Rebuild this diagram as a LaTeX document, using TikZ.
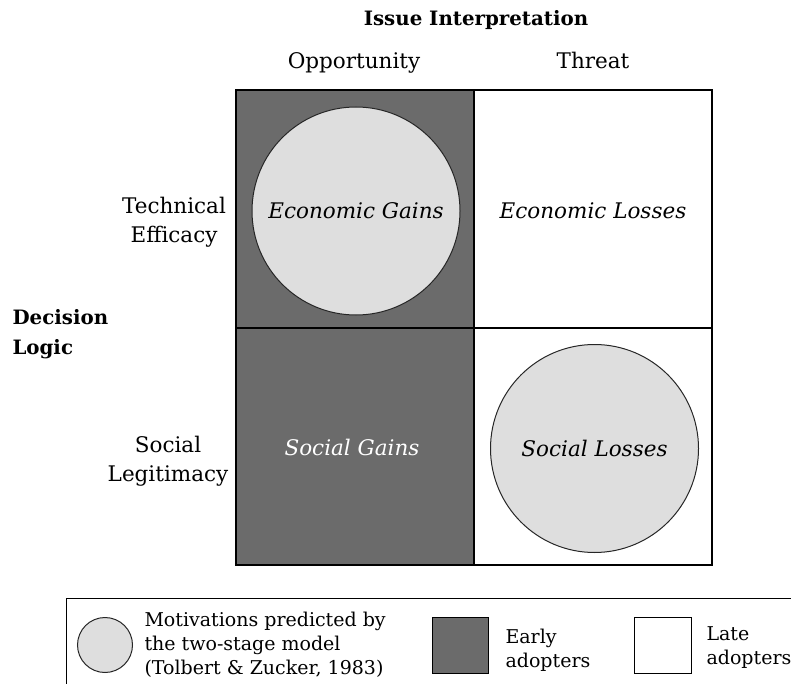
\documentclass[tikz,border=0pt]{standalone}
\usepackage{fontspec}
\setmainfont{DejaVu Serif}
\usetikzlibrary{positioning}
\definecolor{darkcell}{HTML}{6B6B6B}
\definecolor{lightdisc}{HTML}{DEDEDE}

\begin{document}
\begin{tikzpicture}[x=1pt,y=-1pt,
    disc/.style={circle,draw=black!85,line width=1pt,fill=lightdisc,inner sep=0pt,minimum size=208pt},
    celltext/.style={font=\fontsize{21.5}{26}\selectfont\itshape},
    axistext/.style={font=\fontsize{21.5}{29}\selectfont,align=center},
    headtext/.style={font=\fontsize{19.8}{30}\selectfont\bfseries,align=left},
    keytext/.style={font=\fontsize{19}{24}\selectfont,align=left,anchor=west}]
    \useasboundingbox (0,0) rectangle (791,684);

    % the 2x2 grid
    \coordinate (NW) at (236,90);
    \coordinate (SE) at (712,565);
    \coordinate (M) at (474,328);
    \fill[darkcell] (NW) rectangle (M |- SE);
    \draw[line width=2pt] (NW) rectangle (SE)
      (M |- NW) -- (M |- SE) (NW |- M) -- (SE |- M);

    % the two predicted motivations
    \node[disc] (econgain) at (356,211) {};
    \node[disc] (soclose) at (594.5,448.5) {};
    \node[celltext] at (econgain) {Economic Gains};
    \node[celltext] (econloss) at (593,211) {Economic Losses};
    \node[celltext,text=white] (socgain) at (352,447) {Social Gains};
    \node[celltext] at (soclose) {Social Losses};

    % axis labels
    \node[headtext,align=center] (issue) at (476,20) {Issue Interpretation};
    \node[axistext,anchor=base] (opp) at (354,69) {Opportunity};
    \node[axistext,anchor=base] (threat) at (593,69) {Threat};
    \node[axistext] (tech) at (174,222) {Technical\\Efficacy};
    \node[axistext] (social) at (168,461) {Social\\Legitimacy};
    \node[headtext,anchor=west] (decision) at (9,334) {Decision\\Logic};

    % legend
    \draw[line width=1pt] (66,598) rectangle (800,700);
    \node[disc,minimum size=55pt] (keydisc) at (105,645) {};
    \node[keytext] (keydisctext) at (141,645)
      {Motivations predicted by\\the two-stage model\\(Tolbert \& Zucker, 1983)};
    \node[draw,line width=1pt,fill=darkcell,minimum width=56pt,minimum height=56pt] (keyearly) at (460,645) {};
    \node[keytext] (keyearlytext) at (502,650) {Early\\adopters};
    \node[draw,line width=1pt,fill=white,minimum width=57pt,minimum height=56pt] (keylate) at (663,645) {};
    \node[keytext] (keylatetext) at (703,648) {Late\\adopters};
\end{tikzpicture}
\end{document}
